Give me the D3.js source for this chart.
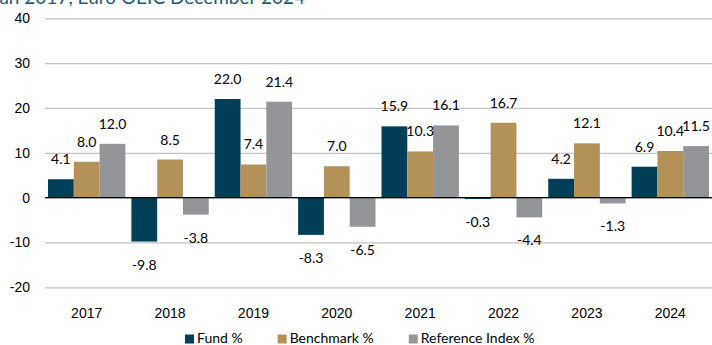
<!DOCTYPE html>
<html>
<head>
<meta charset="utf-8">
<script src="https://cdn.jsdelivr.net/npm/d3@7"></script>
<style>
  html, body { margin: 0; padding: 0; background: #ffffff; }
  svg { display: block; font-family: Lato, "Open Sans", sans-serif; }
</style>
</head>
<body>
<svg id="chart" width="712" height="345"></svg>
<script>
// Calendar-year returns (%)
const years = ["2017", "2018", "2019", "2020", "2021", "2022", "2023", "2024"];
const fund = [4.1, -9.8, 22.0, -8.3, 15.9, -0.3, 4.2, 6.9];
const benchmark = [8.0, 8.5, 7.4, 7.0, 10.3, 16.7, 12.1, 10.4];
const referenceIndex = [12.0, -3.8, 21.4, -6.5, 16.1, -4.4, -1.3, 11.5];
const seriesNames = ["Fund %", "Benchmark %", "Reference Index %"];
const yTicks = [-20, -10, 0, 10, 20, 30, 40];

const seriesValues = [fund, benchmark, referenceIndex];
const colors = ["#003f57", "#b39159", "#949599"];

const plotLeft = 45, plotRight = 712, plotTop = 18.3, plotBottom = 287.3;

// Plain hyphen for negatives
const fmtValue = v => d3.format(".1f")(v).replace("\u2212", "-");
const fmtTick = v => d3.format("d")(v).replace("\u2212", "-");

const svg = d3.select("#chart");

// Heading (runs off the top edge)
svg.append("text")
  .attr("x", 305)
  .attr("y", 3.5)
  .attr("text-anchor", "end")
  .attr("fill", "#1b5a72")
  .attr("font-size", 19)
  .text("Calendar year performance (%) from Jan 2017, Euro OEIC December 2024");

const x0 = d3.scaleBand().domain(years).range([plotLeft, plotRight]).padding(0);
const x1 = d3.scaleBand().domain(seriesNames).range([3, x0.bandwidth() - 3]).padding(0);
const y = d3.scaleLinear().domain([-20, 40]).range([plotBottom, plotTop]);

// Y axis with gridlines
const yAxis = svg.append("g")
  .attr("transform", `translate(${plotLeft},0)`)
  .call(d3.axisLeft(y).tickValues(yTicks).tickSizeInner(-(plotRight - plotLeft)).tickSizeOuter(0).tickPadding(15).tickFormat(fmtTick));
yAxis.select(".domain").remove();
yAxis.selectAll(".tick line")
  .attr("stroke", "#c4c4c4")
  .attr("stroke-width", 1.3);
yAxis.selectAll(".tick text")
  .attr("font-size", 14)
  .attr("fill", "#000");

// Bars
const rows = years.map((yr, i) => ({
  year: yr,
  values: seriesNames.map((s, j) => ({ series: s, idx: j, value: seriesValues[j][i] }))
}));

const groups = svg.append("g").selectAll("g")
  .data(rows)
  .join("g")
  .attr("transform", d => `translate(${x0(d.year)},0)`);

groups.selectAll("rect")
  .data(d => d.values)
  .join("rect")
  .attr("x", d => x1(d.series))
  .attr("width", x1.bandwidth())
  .attr("y", d => y(Math.max(0, d.value)))
  .attr("height", d => Math.abs(y(d.value) - y(0)))
  .attr("fill", d => colors[d.idx]);

// Zero line
svg.append("line")
  .attr("x1", plotLeft).attr("x2", plotRight)
  .attr("y1", y(0)).attr("y2", y(0))
  .attr("stroke", "#000").attr("stroke-width", 1.2);

// Value labels
groups.selectAll("text.val")
  .data(d => d.values)
  .join("text")
  .attr("class", "val")
  .attr("x", d => x1(d.series) + x1.bandwidth() / 2)
  .attr("y", d => d.value >= 0 ? y(d.value) - 15 : y(d.value) + 28)
  .attr("text-anchor", "middle")
  .attr("font-size", 14)
  .attr("fill", "#000")
  .text(d => fmtValue(d.value));

// X axis labels
const xAxis = svg.append("g")
  .attr("transform", `translate(0,${plotBottom})`)
  .call(d3.axisBottom(x0).tickSize(0).tickPadding(21));
xAxis.select(".domain").remove();
xAxis.selectAll(".tick text")
  .attr("font-size", 14)
  .attr("fill", "#000");

// Legend
const legend = svg.append("g");
let lx = 185;
seriesNames.forEach((name, i) => {
  legend.append("rect")
    .attr("x", lx).attr("y", 334.5)
    .attr("width", 9).attr("height", 9)
    .attr("fill", colors[i]);
  const t = legend.append("text")
    .attr("x", lx + 12).attr("y", 343)
    .attr("font-size", 14)
    .attr("fill", "#000")
    .text(name);
  lx += 12 + t.node().getComputedTextLength() + 35;
});
</script>
</body>
</html>
